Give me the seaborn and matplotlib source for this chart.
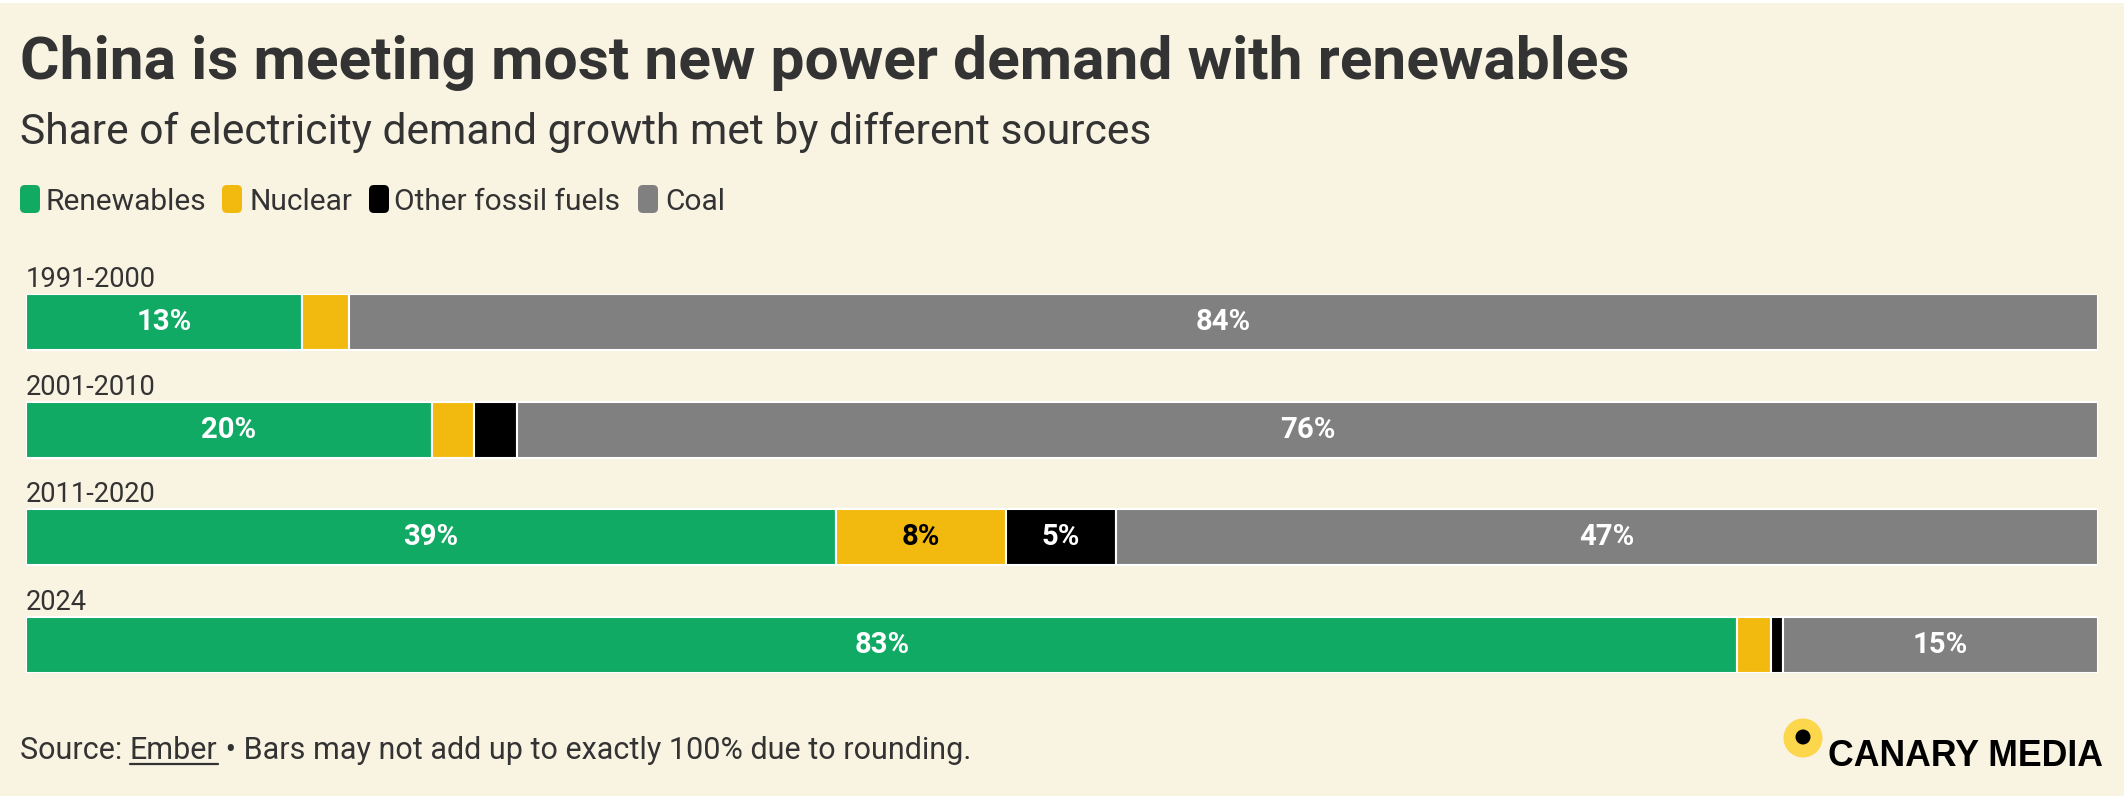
import matplotlib
matplotlib.use("Agg")
import matplotlib.pyplot as plt
from matplotlib.patches import Rectangle, FancyBboxPatch, Circle
from matplotlib.transforms import IdentityTransform
import pandas as pd
import seaborn as sns

# Data (share of demand growth, %)
periods = ["1991-2000", "2001-2010", "2011-2020", "2024"]
sources = ["Renewables", "Nuclear", "Other fossil fuels", "Coal"]
renewables = [13.3, 19.6, 39.1, 82.6]
nuclear = [2.3, 2.0, 8.2, 1.6]
other_fossil = [0.0, 2.1, 5.3, 0.6]
coal = [84.4, 76.3, 47.4, 15.2]

colors = ["#10AA64", "#F2B90F", "#000000", "#808080"]
label_colors = ["white", "black", "white", "white"]
BG = "#F9F3E2"
TXT = "#333333"
W, H = 2124, 802

df = pd.DataFrame({"period": periods, "Renewables": renewables, "Nuclear": nuclear,
                   "Other fossil fuels": other_fossil, "Coal": coal})

sns.set_theme(style="white")
plt.rcParams["font.family"] = ["Roboto", "DejaVu Sans"]

fig = plt.figure(figsize=(W / 100, H / 100), dpi=100, facecolor=BG)
renderer = fig.canvas.get_renderer()


def fit(t, target):
    # scale font so the text spans target pixels
    for _ in range(2):
        w = t.get_window_extent(renderer).width
        t.set_fontsize(t.get_fontsize() * target / w)
    return t


def px(x, y):
    return x / W, 1 - y / H


# thin white strips at top and bottom edges
fig.patches.append(Rectangle((0, 1 - 3 / H), 1, 3 / H, transform=fig.transFigure,
                             facecolor="white", edgecolor="none"))
fig.patches.append(Rectangle((0, 0), 1, 6 / H, transform=fig.transFigure,
                             facecolor="white", edgecolor="none"))

# titles
t = fig.text(*px(20, 79), "China is meeting most new power demand with renewables",
             fontsize=40, fontweight="bold", color=TXT, va="baseline")
fit(t, 1610)
t = fig.text(*px(20, 144), "Share of electricity demand growth met by different sources",
             fontsize=28, color=TXT, va="baseline")
fit(t, 1135)

# legend
sq_x = [20, 222, 369, 638]
tx_x = [46, 249, 394, 665]
leg_fs = None
for name, col, sx, tx in zip(sources, colors, sq_x, tx_x):
    fig.patches.append(FancyBboxPatch((sx + 5, H - 213 + 5), 10, 18, boxstyle="round,pad=5",
                                      transform=IdentityTransform(), facecolor=col,
                                      edgecolor="none"))
    t = fig.text(*px(tx, 210), name, fontsize=18, color=TXT, va="baseline")
    if leg_fs is None:
        fit(t, 160)
        leg_fs = t.get_fontsize()
    else:
        t.set_fontsize(leg_fs)

# stacked bars
ax = fig.add_axes([26 / W, 1 - 673 / H, 2072 / W, 379 / H])
val_fs = None
left = [0.0] * len(periods)
for src, col, lc in zip(sources, colors, label_colors):
    sns.barplot(data=df, x=src, y="period", orient="h", color=col, saturation=1,
                left=left, width=0.52, edgecolor="white", linewidth=1.5, ax=ax)
    for i, v in enumerate(df[src]):
        if v >= 4.5:
            lab = ax.text(left[i] + v / 2, i, f"{round(v)}%", ha="center", va="center",
                          color=lc, fontweight="bold", fontsize=19)
            if val_fs is None:
                fit(lab, 55)
                val_fs = lab.get_fontsize()
            else:
                lab.set_fontsize(val_fs)
    left = [l + v for l, v in zip(left, df[src])]

for i, p in enumerate(periods):
    t = ax.text(0, i - 0.26 - 0.065, p, ha="left", va="baseline", color=TXT, fontsize=18)
    if i == 0:
        fit(t, 130)
        cat_fs = t.get_fontsize()
    else:
        t.set_fontsize(cat_fs)

ax.set_xlim(0, 100)
ax.set_ylim(3.26, -0.26)
ax.set_axis_off()

# footer
fs_foot = 20
t1 = fig.text(*px(20, 759), "Source: ", fontsize=fs_foot, color=TXT, va="baseline")
fit_full = fig.text(*px(20, 900), "Source: Ember \u2022 Bars may not add up to exactly 100% due to rounding.",
                    fontsize=fs_foot, color=TXT, va="baseline")
fit(fit_full, 950)
fs_foot = fit_full.get_fontsize()
fit_full.remove()
t1.set_fontsize(fs_foot)
x = 20 + t1.get_window_extent(renderer).width
t2 = fig.text(*px(x, 759), "Ember", fontsize=fs_foot, color=TXT, va="baseline")
bb = t2.get_window_extent(renderer)
fig.add_artist(plt.Line2D([bb.x0, bb.x1], [H - 764, H - 764], transform=IdentityTransform(),
                          color=TXT, lw=1.6))
x += bb.width
fig.text(*px(x, 759), " \u2022 Bars may not add up to exactly 100% due to rounding.",
         fontsize=fs_foot, color=TXT, va="baseline")

# logo
fig.add_artist(Circle((1803, H - 738), 19.5, transform=IdentityTransform(),
                      facecolor="#FCD64B", edgecolor="none"))
fig.add_artist(Circle((1803, H - 737), 7.5, transform=IdentityTransform(),
                      facecolor="black", edgecolor="none"))
t = fig.text(*px(1828, 766), "CANARY MEDIA", fontsize=20, fontweight="bold",
             color="black", va="baseline", family=["Liberation Sans", "DejaVu Sans"])
fit(t, 275)

fig.savefig("out.png", dpi=100, facecolor=BG)
